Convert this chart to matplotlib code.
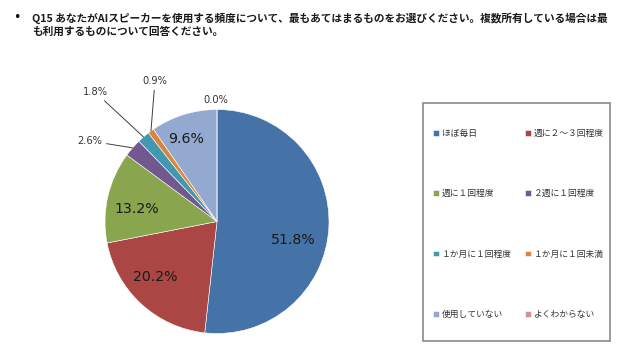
import matplotlib.pyplot as plt
from matplotlib.patches import Rectangle
import numpy as np

plt.rcParams['font.family'] = ['Noto Sans CJK JP', 'DejaVu Sans']

# data
labels = ['ほぼ毎日', '週に２～３回程度', '週に１回程度', '２週に１回程度',
          '１か月に１回程度', '１か月に１回未満', '使用していない', 'よくわからない']
values = [51.8, 20.2, 13.2, 2.6, 1.8, 0.9, 9.6, 0.0]
colors = ['#4572A7', '#AA4643', '#89A54E', '#71588F',
          '#4198AF', '#DB843D', '#93A9CF', '#D19392']

title_text = ('Q15 あなたがAIスピーカーを使用する頻度について、最もあてはまるものをお選びください。複数所有している場合は最\n'
              'も利用するものについて回答ください。')

# label positions (in pie radius units)
inside_pos = {0: (0.679, -0.165), 1: (-0.554, -0.496), 2: (-0.714, 0.112), 6: (-0.277, 0.737)}
outside_pos = {3: (-1.134, 0.719), 4: (-1.089, 1.156), 5: (-0.554, 1.254), 7: (-0.009, 1.085)}

fig = plt.figure(figsize=(6.4, 3.6), dpi=100)

# title with bullet
fig.text(13 / 640, 1 - 18 / 360, '•', fontsize=9, va='center', ha='left', color='black',
         family=['DejaVu Sans'])
fig.text(32 / 640, 1 - 24.5 / 360, title_text, fontsize=7.7, fontweight='bold',
         va='center', ha='left', linespacing=1.25, color='#1a1a1a')

# pie
ax = fig.add_axes([105 / 640, (360 - 221.5 - 112) / 360, 224 / 640, 224 / 360])
wedges, _ = ax.pie(values, colors=colors, startangle=90, counterclock=False,
                   radius=1, wedgeprops=dict(edgecolor='white', linewidth=0.4))
ax.set_xlim(-1, 1)
ax.set_ylim(-1, 1)
ax.set_aspect('equal')
ax.axis('off')

total = sum(values)
cum = 0
for i, v in enumerate(values):
    mid = np.deg2rad(90 - 360 * (cum + v / 2) / total)
    cum += v
    txt = f'{v:.1f}%'
    if i in inside_pos:
        x, y = inside_pos[i]
        ax.text(x, y, txt, fontsize=10.2, ha='center', va='center', color='#1a1a1a',
                family=['DejaVu Sans'])
    else:
        x, y = outside_pos[i]
        if v > 0:
            ax.annotate(txt, xy=(np.cos(mid), np.sin(mid)), xytext=(x, y),
                        fontsize=7.1, ha='center', va='center', color='#333333',
                        family=['DejaVu Sans'], annotation_clip=False,
                        arrowprops=dict(arrowstyle='-', color='#404040', lw=0.7,
                                        shrinkA=1, shrinkB=0))
        else:
            ax.text(x, y, txt, fontsize=7.1, ha='center', va='center', color='#333333',
                    family=['DejaVu Sans'])

# legend frame
fig.patches.append(Rectangle((423 / 640, (360 - 341) / 360), 187 / 640, 238 / 360,
                             transform=fig.transFigure, fill=False,
                             edgecolor='#8a8a8a', linewidth=1.2))

# legend fills row by row in the original
order = [0, 2, 4, 6, 1, 3, 5, 7]
leg = fig.legend([wedges[i] for i in order], [labels[i] for i in order],
                 ncol=2, loc='upper left',
                 bbox_to_anchor=(433 / 640, 1 - 129 / 360), frameon=False,
                 fontsize=6.3, borderpad=0, borderaxespad=0, labelspacing=5.86,
                 handlelength=0.65, handleheight=0.65, handletextpad=0.35,
                 columnspacing=1.5)
for t in leg.get_texts():
    t.set_color('#333333')

fig.savefig('out.png', dpi=100)
